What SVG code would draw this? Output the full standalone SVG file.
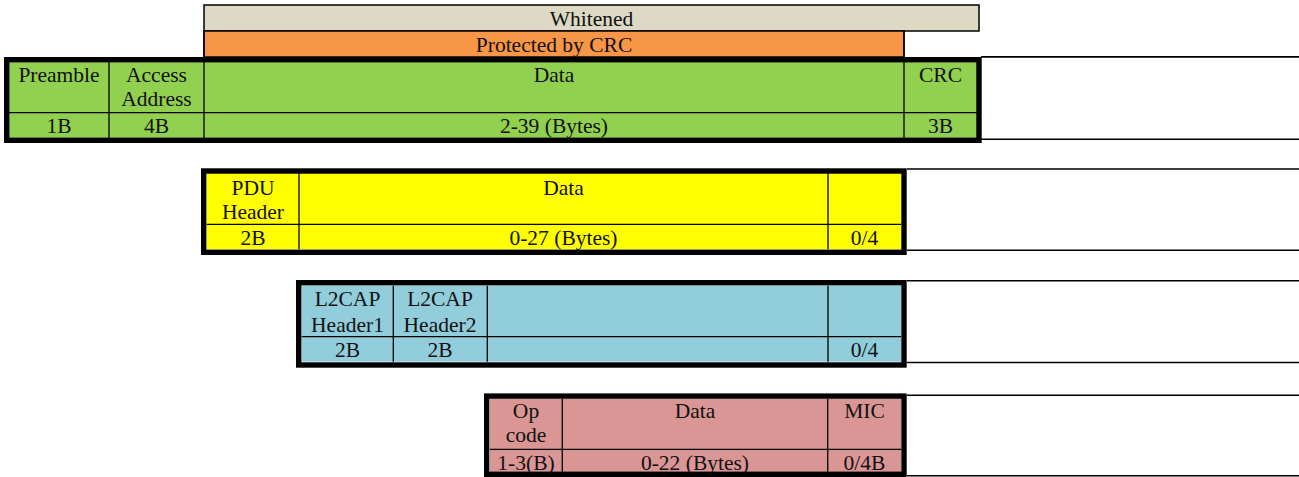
<svg xmlns="http://www.w3.org/2000/svg" width="1299" height="477" viewBox="0 0 1299 477">
<style>
.t{font-family:"Liberation Serif","Times New Roman",serif;font-size:21.5px;fill:#111;text-anchor:middle}
.thin{stroke:#000;stroke-width:1.3;fill:none}
.thick{stroke:#000;stroke-width:5.4;fill:none}
.side{stroke:#000;stroke-width:1.6}
.band{stroke:#000;stroke-width:1.5}
</style>
<rect width="1299" height="477" fill="#fff"/>
<g id="whitened">
<rect x="204" y="5" width="775" height="26" fill="#DDD9C4" class="band"/>
<text class="t" x="591.5" y="25.5">Whitened</text>
</g>
<g id="protected">
<rect x="204" y="31" width="700" height="26" fill="#F79646" class="band"/>
<text class="t" x="554" y="51.5">Protected by CRC</text>
</g>
<g id="packet">
<rect x="9" y="62" width="968" height="76" fill="#92D050"/>
<path class="thin" d="M9 112.7H977M109 62V138M204 31V138M904 31V138"/>
<rect class="thick" x="6.7" y="59.7" width="972.3" height="80.6"/>
<text class="t" x="59" y="82">Preamble</text>
<text class="t" x="156.5" y="82">Access</text>
<text class="t" x="156.5" y="106">Address</text>
<text class="t" x="554" y="82">Data</text>
<text class="t" x="940.5" y="82">CRC</text>
<text class="t" x="59" y="133">1B</text>
<text class="t" x="156.5" y="133">4B</text>
<text class="t" x="554" y="133">2-39 (Bytes)</text>
<text class="t" x="940.5" y="133">3B</text>
</g>
<g id="pdu">
<rect x="206.7" y="173.3" width="694.3" height="76" fill="#FFFF00"/>
<path class="thin" d="M206.7 224.3H901M299 173.3V249.3M828 173.3V249.3"/>
<rect class="thick" x="203.7" y="171" width="700.3" height="81.3"/>
<text class="t" x="253" y="194.5">PDU</text>
<text class="t" x="253" y="219">Header</text>
<text class="t" x="563.5" y="194.5">Data</text>
<text class="t" x="253" y="245">2B</text>
<text class="t" x="563.5" y="245">0-27 (Bytes)</text>
<text class="t" x="864.5" y="245">0/4</text>
</g>
<g id="l2cap">
<rect x="301.7" y="285.7" width="599.3" height="76" fill="#92CDDC"/>
<path class="thin" d="M301.7 336.7H901M393.3 285.7V361.7M487.3 285.7V361.7M828 285.7V361.7"/>
<rect class="thick" x="298.7" y="282.7" width="605.3" height="82.3"/>
<text class="t" x="347.5" y="306">L2CAP</text>
<text class="t" x="347.5" y="331.5">Header1</text>
<text class="t" x="440" y="306">L2CAP</text>
<text class="t" x="440" y="331.5">Header2</text>
<text class="t" x="347.5" y="357">2B</text>
<text class="t" x="440" y="357">2B</text>
<text class="t" x="864.5" y="357">0/4</text>
</g>
<g id="access">
<rect x="490" y="399" width="411" height="75" fill="#DA9694"/>
<path class="thin" d="M490 449.3H901M562.3 399V474M827.7 399V474"/>
<rect class="thick" x="486.7" y="396.1" width="417.3" height="78.2"/>
<text class="t" x="526" y="417.5">Op</text>
<text class="t" x="526" y="442">code</text>
<text class="t" x="695" y="417.5">Data</text>
<text class="t" x="864.5" y="417.5">MIC</text>
<text class="t" x="526" y="470">1-3(B)</text>
<text class="t" x="695" y="470">0-22 (Bytes)</text>
<text class="t" x="864.5" y="470">0/4B</text>
</g>
<g id="connectors">
<path class="side" d="M981 56.9H1299M981 139.2H1299M907 169H1299M907 250.2H1299M907 280.8H1299M907 362.5H1299M907 395.2H1299M907 475.8H1299"/>
</g>
</svg>
